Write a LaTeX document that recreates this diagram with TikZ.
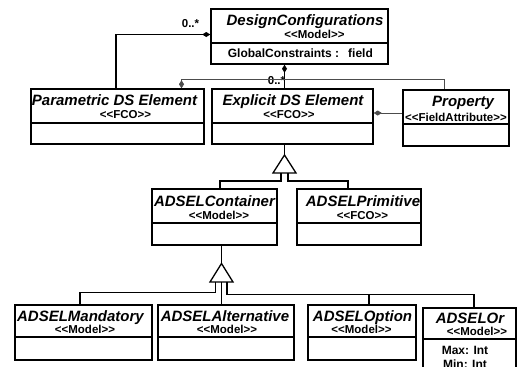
\documentclass[tikz,border=0pt]{standalone}
\usepackage{fontspec}
\newfontfamily\umlfont{Liberation Sans}
\usetikzlibrary{arrows.meta}
% stereotype text with guillemet-style brackets kept as plain < and >
\newcommand\stereo[1]{<\kern0pt<#1>\kern0pt>}
\begin{document}
\begin{tikzpicture}[x=1pt,y=-1pt,
  box/.style={draw, line width=1.5pt, inner sep=0pt},
  sepline/.style={line width=1.5pt},
  strong/.style={line width=1.3pt},
  weak/.style={line width=0.6pt, draw=black!70},
  comp/.style={{Diamond[length=8pt,width=5pt]}-},
  title/.style={inner sep=0pt, anchor=base, font=\umlfont\bfseries\itshape\fontsize{15}{15}\selectfont},
  stype/.style={inner sep=0pt, anchor=base, font=\umlfont\bfseries\fontsize{11.5}{12}\selectfont},
  attr/.style={inner sep=0pt, anchor=base, font=\umlfont\bfseries\fontsize{12}{12}\selectfont},
  mult/.style={inner sep=0pt, anchor=base, font=\umlfont\bfseries\fontsize{11.5}{12}\selectfont},
]
\useasboundingbox[fill=white] (0,0) rectangle (520,367);
\begin{scope}
\clip (0,0) rectangle (520,367);

% ---------- class boxes ----------
\node[box, minimum width=177pt, minimum height=55pt] (dc)        at (299.5,36.5) {};
\node[box, minimum width=173pt, minimum height=55pt] (param)     at (117.5,116.5) {};
\node[box, minimum width=161pt, minimum height=55pt] (explicit)  at (292.5,116.5) {};
\node[box, minimum width=106pt, minimum height=56pt] (property)  at (456,118) {};
\node[box, minimum width=125pt, minimum height=56pt] (container) at (214.5,217) {};
\node[box, minimum width=124pt, minimum height=56pt] (primitive) at (359,217) {};
\node[box, minimum width=137pt, minimum height=55pt] (mandatory) at (83.5,332.5) {};
\node[box, minimum width=136pt, minimum height=55pt] (alternative) at (226,332.5) {};
\node[box, minimum width=108pt, minimum height=55pt] (option)    at (362,332.5) {};
\node[box, minimum width=93pt,  minimum height=80pt] (orbox)     at (469.5,348) {};

% compartment separators
\draw[sepline] (dc.west |- 0,43) -- (dc.east |- 0,43);
\draw[sepline] (param.west |- 0,123) -- (param.east |- 0,123);
\draw[sepline] (explicit.west |- 0,123) -- (explicit.east |- 0,123);
\draw[sepline] (property.west |- 0,124) -- (property.east |- 0,124);
\draw[sepline] (container.west |- 0,223) -- (container.east |- 0,223);
\draw[sepline] (primitive.west |- 0,223) -- (primitive.east |- 0,223);
\draw[sepline] (mandatory.west |- 0,337) -- (mandatory.east |- 0,337);
\draw[sepline] (alternative.west |- 0,337) -- (alternative.east |- 0,337);
\draw[sepline] (option.west |- 0,337) -- (option.east |- 0,337);
\draw[sepline] (orbox.west |- 0,339) -- (orbox.east |- 0,339);

% ---------- texts ----------
\node[title] (dcT) at (305,25.7) {DesignConfigurations};
\node[stype] (dcS) at (314.5,38) {\stereo{Model}};
\node[attr]  (dcA) at (283.5,57.5) {GlobalConstraints :};
\node[attr]  (dcF) at (360.5,57.5) {field};

\node[title] (paramT) at (114.5,105) {Parametric DS Element};
\node[stype] (paramS) at (125.5,118.5) {\stereo{FCO}};
\node[title] (explicitT) at (293,105) {Explicit DS Element};
\node[stype] (explicitS) at (289,118.5) {\stereo{FCO}};
\node[title] (propertyT) at (463,106) {Property};
\node[stype] (propertyS) at (456,121.5) {\stereo{FieldAttribute}};

\node[title] (containerT) at (214.5,206.5) {ADSELContainer};
\node[stype] (containerS) at (219,219.5) {\stereo{Model}};
\node[title] (primitiveT) at (363,206.5) {ADSELPrimitive};
\node[stype] (primitiveS) at (362.5,219.5) {\stereo{FCO}};

\node[title] (mandatoryT) at (80.5,321.5) {ADSELMandatory};
\node[stype] (mandatoryS) at (85,333.5) {\stereo{Model}};
\node[title] (alternativeT) at (225,321.5) {ADSELAlternative};
\node[stype] (alternativeS) at (227,333.5) {\stereo{Model}};
\node[title] (optionT) at (362.5,321.5) {ADSELOption};
\node[stype] (optionS) at (361.5,333.5) {\stereo{Model}};
\node[title] (orT) at (470,323) {ADSELOr};
\node[stype] (orS) at (477,335.5) {\stereo{Model}};
\node[attr]  (orMax) at (465,354) {Max: Int};
\node[attr]  (orMin) at (465,368.5) {Min: Int};

% ---------- associations ----------
\draw[strong, comp] (dc.west |- 0,34.5) -| (param.north -| 116,0);
\node[mult] (m1) at (190.5,27) {0..*};
\draw[strong, comp] (dc.south -| 284.5,0) -- (explicit.north -| 284.5,0);
\node[mult] (m2) at (276.5,84.5) {0..*};

\coordinate (pbend) at (444,79);
\draw[weak, comp] (param.north -| 181.5,0) |- (pbend) -- (property.north -| pbend);
\draw[weak, comp] (explicit.east |- 0,113) -- (property.west |- 0,113);

% ---------- generalization: Explicit DS Element ----------
\coordinate (g1) at (284.5,155);
\draw[strong] (explicit.south -| g1) -- (g1);
\draw[strong] (g1) -- ++(11.5,18) -- ++(-23,0) -- cycle;
\coordinate (g1l) at (281,173);
\coordinate (g1r) at (288,173);
\draw[strong] (g1l) -- ++(0,8) -| (container.north -| 220,0);
\draw[strong] (g1r) -- ++(0,8) -| (primitive.north -| 348,0);

% ---------- generalization: ADSELContainer ----------
\coordinate (g2) at (221.5,263.5);
\draw[strong] (container.south -| g2) -- (g2);
\draw[strong] (g2) -- ++(11.5,18.5) -- ++(-23,0) -- cycle;
\coordinate (g2l) at (215.5,282);
\coordinate (g2m) at (221.5,282);
\coordinate (g2r) at (227,282);
\draw[strong] (g2l) -- ++(0,10.5) -| (mandatory.north -| 80,0);
\draw[strong] (g2m) -- (alternative.north -| g2m);
\draw[strong] (g2r) -- ++(0,12.5) -| (orbox.north -| 474,0);
\draw[strong] (369,294.5) -- (option.north -| 369,0);
\end{scope}
\end{tikzpicture}
\end{document}
